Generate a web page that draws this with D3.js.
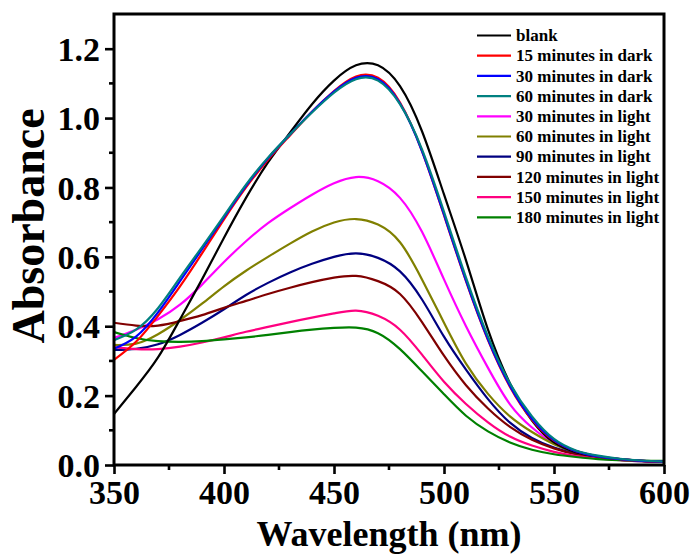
<!DOCTYPE html>
<html>
<head>
<meta charset="utf-8">
<script src="https://cdn.jsdelivr.net/npm/d3@7/dist/d3.min.js"></script>
<style>
  html, body { margin: 0; padding: 0; background: #fff; }
  svg { display: block; }
  text { font-family: "Liberation Serif", "Times New Roman", serif; font-weight: bold; fill: #000; }
</style>
</head>
<body>
<svg id="chart" width="691" height="555"></svg>
<script>
// ---- data ----
const wavelengths = [350,360,370,380,390,400,410,420,430,440,450,460,470,480,490,500,510,520,530,540,550,560,570,580,590,600];

const seriesNames = [
  "blank",
  "15 minutes in dark",
  "30 minutes in dark",
  "60 minutes in dark",
  "30 minutes in light",
  "60 minutes in light",
  "90 minutes in light",
  "120 minutes in light",
  "150 minutes in light",
  "180 minutes in light"
];

const seriesColors = ["#000000","#FF0000","#0000FF","#008080","#FF00FF","#808000","#000080","#800000","#FF0080","#008000"];

const blank      = [0.147,0.225,0.31,0.42,0.535,0.655,0.77,0.872,0.958,1.04,1.108,1.152,1.152,1.092,0.962,0.78,0.59,0.39,0.235,0.128,0.065,0.037,0.024,0.017,0.012,0.01];
const dark15     = [0.303,0.355,0.43,0.515,0.61,0.708,0.8,0.88,0.95,1.018,1.078,1.12,1.116,1.045,0.905,0.72,0.53,0.36,0.225,0.13,0.07,0.04,0.025,0.017,0.012,0.01];
const dark30     = [0.335,0.37,0.44,0.53,0.622,0.714,0.805,0.884,0.953,1.018,1.076,1.116,1.112,1.042,0.905,0.722,0.532,0.362,0.228,0.133,0.072,0.04,0.025,0.017,0.012,0.01];
const dark60     = [0.36,0.39,0.452,0.54,0.628,0.718,0.808,0.886,0.953,1.016,1.073,1.112,1.108,1.04,0.91,0.73,0.54,0.37,0.235,0.14,0.075,0.042,0.027,0.018,0.013,0.01];
const light30    = [0.366,0.39,0.42,0.462,0.52,0.585,0.645,0.697,0.74,0.779,0.812,0.83,0.818,0.77,0.672,0.535,0.40,0.28,0.175,0.108,0.062,0.036,0.023,0.016,0.012,0.01];
const light60    = [0.346,0.35,0.377,0.418,0.465,0.515,0.56,0.6,0.638,0.673,0.699,0.709,0.693,0.642,0.535,0.41,0.292,0.205,0.14,0.095,0.06,0.036,0.022,0.015,0.011,0.01];
const light90    = [0.332,0.335,0.348,0.375,0.41,0.449,0.49,0.525,0.555,0.58,0.6,0.61,0.597,0.558,0.477,0.37,0.275,0.19,0.122,0.078,0.05,0.032,0.021,0.015,0.011,0.01];
const light120   = [0.41,0.402,0.402,0.415,0.432,0.453,0.473,0.493,0.511,0.527,0.54,0.545,0.53,0.493,0.412,0.315,0.23,0.163,0.11,0.073,0.048,0.031,0.021,0.015,0.012,0.011];
const light150   = [0.34,0.334,0.334,0.341,0.353,0.368,0.384,0.398,0.412,0.425,0.437,0.445,0.43,0.39,0.318,0.24,0.176,0.123,0.082,0.056,0.038,0.026,0.019,0.014,0.011,0.01];
const light180   = [0.383,0.366,0.357,0.355,0.357,0.362,0.368,0.375,0.383,0.39,0.395,0.396,0.38,0.334,0.27,0.204,0.142,0.097,0.065,0.044,0.031,0.023,0.017,0.014,0.012,0.012];

const seriesValues = [blank, dark15, dark30, dark60, light30, light60, light90, light120, light150, light180];

const xTickValues = [350,400,450,500,550,600];
const yTickValues = [0.0,0.2,0.4,0.6,0.8,1.0,1.2];
const xMinorTicks = [375,425,475,525,575];
const yMinorTicks = [0.1,0.3,0.5,0.7,0.9,1.1];

// ---- layout ----
const svg = d3.select("#chart");
const L = 114, R = 664, T = 14, B = 465;

const x = d3.scaleLinear().domain([350, 600]).range([L, R]);
const y = d3.scaleLinear().domain([0, 1.3]).range([B, T]);

svg.append("defs").append("clipPath").attr("id","plotclip")
  .append("rect").attr("x", L).attr("y", T).attr("width", R - L).attr("height", B - T);

const line = d3.line()
  .x((d, i) => x(wavelengths[i]))
  .y(d => y(d))
  .curve(d3.curveNatural);

const plot = svg.append("g").attr("clip-path", "url(#plotclip)");
const drawOrder = [4,5,6,7,8,9,0,1,2,3];
drawOrder.forEach(i => {
  plot.append("path")
    .attr("d", line(seriesValues[i]))
    .attr("fill", "none")
    .attr("stroke", seriesColors[i])
    .attr("stroke-width", 2.2)
    .attr("stroke-linejoin", "round");
});

// axes
const xAxis = d3.axisBottom(x).tickValues(xTickValues).tickFormat(d3.format("d")).tickSize(9).tickPadding(6);
const yAxis = d3.axisLeft(y).tickValues(yTickValues).tickFormat(d3.format(".1f")).tickSize(9).tickPadding(5);

const gx = svg.append("g").attr("transform", `translate(0,${B})`).call(xAxis);
const gy = svg.append("g").attr("transform", `translate(${L},0)`).call(yAxis);

[gx, gy].forEach(g => {
  g.select(".domain").remove();
  g.selectAll(".tick line").attr("stroke", "#000").attr("stroke-width", 2.6);
  g.selectAll(".tick text").style("font-size", "34px").style("font-family", '"Liberation Serif", serif').style("font-weight", "bold");
});
gy.selectAll(".tick text").attr("dy", "0.34em");

// minor ticks
svg.append("g").selectAll("line").data(xMinorTicks).join("line")
  .attr("x1", d => x(d)).attr("x2", d => x(d))
  .attr("y1", B).attr("y2", B + 5)
  .attr("stroke", "#000").attr("stroke-width", 2.6);
svg.append("g").selectAll("line").data(yMinorTicks).join("line")
  .attr("x1", L - 5).attr("x2", L)
  .attr("y1", d => y(d)).attr("y2", d => y(d))
  .attr("stroke", "#000").attr("stroke-width", 2.6);

// frame
svg.append("rect")
  .attr("x", L).attr("y", T).attr("width", R - L).attr("height", B - T)
  .attr("fill", "none").attr("stroke", "#000").attr("stroke-width", 3);

// axis titles
svg.append("text")
  .attr("x", (L + R) / 2).attr("y", 546)
  .attr("text-anchor", "middle")
  .style("font-size", "36px")
  .text("Wavelength (nm)");

svg.append("text")
  .attr("transform", `translate(44,226) rotate(-90)`)
  .attr("text-anchor", "middle")
  .style("font-size", "46px")
  .text("Absorbance");

// legend
const legend = svg.append("g");
seriesNames.forEach((name, i) => {
  const ly = 35.5 + i * 20.2;
  legend.append("line")
    .attr("x1", 477).attr("x2", 511)
    .attr("y1", ly).attr("y2", ly)
    .attr("stroke", seriesColors[i]).attr("stroke-width", 2.2);
  legend.append("text")
    .attr("x", 516).attr("y", ly)
    .attr("dy", "0.33em")
    .style("font-size", "17px")
    .text(name);
});
</script>
</body>
</html>
